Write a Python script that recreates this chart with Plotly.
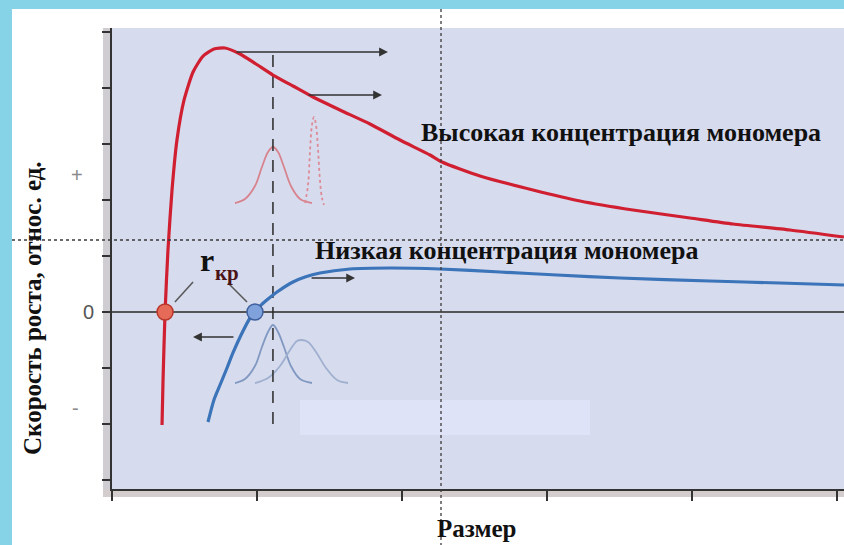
import plotly.graph_objects as go

# ---------------- data (axis units) ----------------
high_x = [0.345, 0.352, 0.366, 0.386, 0.414, 0.448, 0.497, 0.559, 0.628, 0.703, 0.779, 0.883, 0.993,
          1.110, 1.248, 1.386, 1.572, 1.779, 1.986, 2.193, 2.276, 2.538, 2.903, 3.228, 3.593, 3.986,
          4.283, 4.676, 5.048]
high_y = [-2.018, -1.214, 0.0, 1.107, 2.179, 3.071, 3.786, 4.286, 4.571, 4.696, 4.714, 4.607, 4.429,
          4.232, 4.036, 3.839, 3.607, 3.357, 3.071, 2.804, 2.679, 2.429, 2.179, 1.982, 1.821, 1.679,
          1.571, 1.464, 1.339]

low_x = [0.662, 0.703, 0.745, 0.793, 0.834, 0.890, 0.952, 0.986, 1.021, 1.076, 1.138, 1.248, 1.331,
         1.434, 1.641, 1.917, 2.262, 2.676, 3.069, 3.503, 4.124, 4.607, 5.048]
low_y = [-1.964, -1.571, -1.304, -1.0, -0.732, -0.411, -0.107, 0.0, 0.107, 0.232, 0.357, 0.536, 0.625,
         0.696, 0.768, 0.786, 0.768, 0.714, 0.661, 0.607, 0.554, 0.518, 0.482]

# size distributions (schematic)
dist_red_broad_x = [0.848, 0.917, 0.986, 1.034, 1.076, 1.110, 1.145, 1.186, 1.234, 1.297, 1.379]
dist_red_broad_y = [1.946, 2.018, 2.250, 2.589, 2.857, 2.946, 2.857, 2.589, 2.250, 2.018, 1.946]
dist_red_narrow_x = [1.331, 1.352, 1.366, 1.379, 1.393, 1.407, 1.421, 1.434, 1.448, 1.462]
dist_red_narrow_y = [1.946, 2.268, 2.893, 3.339, 3.482, 3.339, 2.893, 2.357, 2.036, 1.911]
dist_blue_1_x = [0.848, 0.917, 0.986, 1.034, 1.076, 1.110, 1.145, 1.186, 1.234, 1.297, 1.379]
dist_blue_1_y = [-1.268, -1.196, -0.964, -0.625, -0.357, -0.232, -0.357, -0.625, -0.964, -1.196, -1.268]
dist_blue_2_x = [0.986, 1.076, 1.159, 1.228, 1.276, 1.310, 1.352, 1.407, 1.476, 1.552, 1.628]
dist_blue_2_y = [-1.268, -1.179, -0.964, -0.679, -0.518, -0.500, -0.536, -0.714, -1.000, -1.214, -1.268]

critical_x = [0.366, 0.986]
critical_y = [0.0, 0.0]

dashed_x = [1.110, 1.110]
dashed_y = [4.589, -2.107]

leader_red_x = [0.434, 0.559]
leader_red_y = [0.179, 0.536]
leader_blue_x = [0.931, 0.800]
leader_blue_y = [0.179, 0.518]

arrow_tails = [(0.848, 4.643), (1.345, 3.875), (1.366, 0.607), (0.848, -0.446)]
arrow_heads = [(1.903, 4.643), (1.862, 3.875), (1.676, 0.607), (0.559, -0.446)]

x_ticks = [0, 1, 2, 3, 4, 5]
y_ticks = [-3, -2, -1, 0, 1, 2, 3, 4, 5]
y_tick_labels = [("+", 2.45), ("0", 0.0), ("-", -1.71)]

label_high = "Высокая концентрация мономера"
label_low = "Низкая концентрация мономера"
x_title = "Размер"
y_title = "Скорость роста, относ. ед."

# ---------------- layout helpers ----------------
W, H = 844, 545
L, R, T, B = 112, 0, 28, 56
PW, PH = W - L - R, H - T - B


def px(x):
    return (x - L) / PW


def py(y):
    return (H - B - y) / PH


SERIF = "Liberation Serif"
fig = go.Figure()

# distributions
fig.add_trace(go.Scatter(x=dist_red_broad_x, y=dist_red_broad_y, mode="lines", line=dict(color="#d7848f", width=1.8, shape="spline")))
fig.add_trace(go.Scatter(x=dist_red_narrow_x, y=dist_red_narrow_y, mode="lines", line=dict(color="#dd8c97", width=1.8, dash="dot", shape="spline")))
fig.add_trace(go.Scatter(x=dist_blue_1_x, y=dist_blue_1_y, mode="lines", line=dict(color="#8199c2", width=1.8, shape="spline")))
fig.add_trace(go.Scatter(x=dist_blue_2_x, y=dist_blue_2_y, mode="lines", line=dict(color="#9fb0cf", width=1.8, shape="spline")))

# dashed vertical
fig.add_trace(go.Scatter(x=dashed_x, y=dashed_y, mode="lines", line=dict(color="#2a2a2a", width=1.5, dash="12px,9px")))

# main curves
fig.add_trace(go.Scatter(x=high_x, y=high_y, mode="lines", line=dict(color="#d01f30", width=3.2, shape="spline", smoothing=0.6)))
fig.add_trace(go.Scatter(x=low_x, y=low_y, mode="lines", line=dict(color="#3b74b9", width=3.2, shape="spline", smoothing=0.6)))

# leader lines
fig.add_trace(go.Scatter(x=leader_red_x, y=leader_red_y, mode="lines", line=dict(color="#5a5a5a", width=1.6)))
fig.add_trace(go.Scatter(x=leader_blue_x, y=leader_blue_y, mode="lines", line=dict(color="#5a5a5a", width=1.6)))

# critical points
fig.add_trace(go.Scatter(x=critical_x[:1], y=critical_y[:1], mode="markers",
                         marker=dict(size=16, color="#e66a58", line=dict(color="#b8372a", width=1.5))))
fig.add_trace(go.Scatter(x=critical_x[1:], y=critical_y[1:], mode="markers",
                         marker=dict(size=16, color="#7fa2dc", line=dict(color="#3f5f9c", width=1.5))))

annotations = []
for (tx, ty), (hx, hy) in zip(arrow_tails, arrow_heads):
    annotations.append(dict(x=hx, y=hy, ax=tx, ay=ty, xref="x", yref="y", axref="x", ayref="y",
                            showarrow=True, arrowhead=2, arrowsize=1.1, arrowwidth=1.6, arrowcolor="#333333", text=""))

annotations += [
    dict(x=3.51, y=3.214, xref="x", yref="y", text=f"<b>{label_high}</b>", showarrow=False,
         xanchor="center", yanchor="middle", font=dict(family=SERIF, size=26, color="#111111")),
    dict(x=2.724, y=1.107, xref="x", yref="y", text=f"<b>{label_low}</b>", showarrow=False,
         xanchor="center", yanchor="middle", font=dict(family=SERIF, size=26, color="#111111")),
    dict(x=0.655, y=0.93, xref="x", yref="y", text="<b>r</b>", showarrow=False,
         xanchor="center", yanchor="middle", font=dict(family=SERIF, size=32, color="#111111")),
    dict(x=0.795, y=0.70, xref="x", yref="y", text="<b>кр</b>", showarrow=False,
         xanchor="center", yanchor="middle", font=dict(family=SERIF, size=21, color="#4a1416")),
    dict(x=px(477), y=py(528), xref="paper", yref="paper", text=f"<b>{x_title}</b>", showarrow=False,
         xanchor="center", yanchor="middle", font=dict(family=SERIF, size=25, color="#111111")),
    dict(x=px(32), y=py(308), xref="paper", yref="paper", text=f"<b>{y_title}</b>", showarrow=False,
         xanchor="center", yanchor="middle", textangle=-90, font=dict(family=SERIF, size=25, color="#111111")),
]
tick_label_x = {"+": 77, "0": 88, "-": 75}
tick_label_col = {"+": "#8a8a8a", "0": "#555555", "-": "#8a8a8a"}
for lab, yv in y_tick_labels:
    annotations.append(dict(x=px(tick_label_x[lab]), xref="paper", y=yv, yref="y", text=lab, showarrow=False,
                            xanchor="center", yanchor="middle",
                            font=dict(family="Liberation Sans", size=20, color=tick_label_col[lab])))

shapes = [
    # light blue frame (top and left)
    dict(type="rect", xref="paper", yref="paper", x0=px(0), x1=px(W), y0=py(0), y1=py(9),
         fillcolor="#86d2e7", line=dict(width=0), layer="below"),
    dict(type="rect", xref="paper", yref="paper", x0=px(0), x1=px(12), y0=py(0), y1=py(H),
         fillcolor="#86d2e7", line=dict(width=0), layer="below"),
    # gray strips behind the axes
    dict(type="rect", xref="paper", yref="paper", x0=px(103), x1=px(112), y0=py(497), y1=py(28),
         fillcolor="#cfcdd2", line=dict(width=0), layer="below"),
    dict(type="rect", xref="paper", yref="paper", x0=px(103), x1=px(W), y0=py(497), y1=py(489),
         fillcolor="#d3cdcd", line=dict(width=0), layer="below"),
    # faint lighter patch
    dict(type="rect", xref="paper", yref="paper", x0=px(300), x1=px(590), y0=py(435), y1=py(400),
         fillcolor="#dee3f8", line=dict(width=0), layer="below"),
    # dotted guide lines
    dict(type="line", xref="paper", yref="paper", x0=px(12), x1=px(W), y0=py(240), y1=py(240),
         line=dict(color="#3a3a3a", width=1.3, dash="dot")),
    dict(type="line", xref="paper", yref="paper", x0=px(441), x1=px(441), y0=py(9), y1=py(H),
         line=dict(color="#3a3a3a", width=1.3, dash="dot")),
]

fig.update_layout(
    width=W, height=H,
    margin=dict(l=L, r=R, t=T, b=B),
    paper_bgcolor="white",
    plot_bgcolor="#d7dbee",
    showlegend=False,
    annotations=annotations,
    shapes=shapes,
    xaxis=dict(range=[0, PW / 145], tickvals=x_ticks, showticklabels=False, ticks="outside", ticklen=10,
               tickwidth=2, tickcolor="#333333", showline=True, linecolor="#333333", linewidth=2,
               showgrid=False, zeroline=False, fixedrange=True),
    yaxis=dict(range=[-(H - B - 312) / 56, (312 - T) / 56],
               tickvals=y_ticks, showticklabels=False, ticks="outside", ticklen=8,
               tickwidth=2, tickcolor="#333333", showline=True, linecolor="#333333", linewidth=2,
               showgrid=False, zeroline=True, zerolinecolor="#555555", zerolinewidth=2, fixedrange=True),
)

fig.write_html("out.html", config={"displayModeBar": False},
               post_script="document.body.style.margin='0';document.body.style.overflow='hidden';")
